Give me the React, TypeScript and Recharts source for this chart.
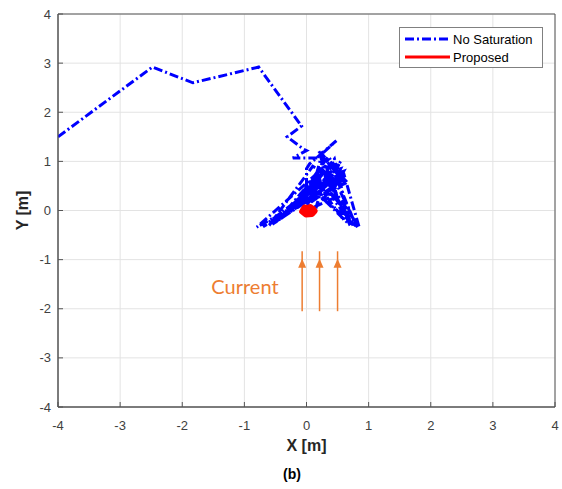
import { ComposedChart, Line, Scatter, XAxis, YAxis, CartesianGrid, ReferenceDot, ReferenceArea } from 'recharts';

// axis ticks (MATLAB style, -4..4 on both axes)
const axisTicks = [-4, -3, -2, -1, 0, 1, 2, 3, 4];

// "No Saturation" trajectory
const noSatX = [
  -4.0, -2.48, -1.83, -0.77, -0.08, -0.31, -0.05, 0.0,
  -0.22, 0.18, 0.48, 0.05, 0.0, 0.0, 0.25, 0.55,
  0.1, -0.8, 0.3, 0.6, 0.85, 0.35, 0.2, 0.62, -0.15,
  0.45, 0.7, 0.25, 0.0, 0.4, -0.5, 0.15, 0.55, 0.3, 0.8,
  0.45, -0.3, 0.35, 0.6, 0.05, 0.5, 0.2, 0.6, 0.4, -0.6,
  0.1, 0.5, 0.15, 0.38, 0.58, 0.1, 0.7, 0.3, -0.4, 0.22,
  0.3, -0.7, 0.2, 0.05, -0.45, 0.25, 0.5, 0.82, 0.4, 0.6, 0.1, -0.25,
  0.3, 0.45, 0.75, 0.35, 0.55, 0.2, -0.55, 0.15, 0.62, 0.28, 0.05, 0.52, 0.0,
];
const noSatY = [
  1.5, 2.92, 2.6, 2.92, 1.72, 1.5, 1.25, 1.22,
  1.07, 1.07, 1.42, 0.95, 0.85, 0.02, 1.15, 0.7,
  0.3, -0.34, 0.9, 0.75, -0.35, 0.6, 1.2, 0.55, 0.1,
  1.05, -0.25, 0.85, 0.35, 0.95, -0.25, 0.7, 0.85, 0.2, -0.32,
  0.75, -0.05, 1.1, 0.65, 0.15, 0.95, 0.5, -0.2, 0.7, -0.3,
  0.9, 0.6, 0.05, 1.0, 0.72, 0.45, -0.3, 0.8, -0.15, 0.6,
  0.45, -0.33, 0.55, 0.25, -0.2, 0.75, 0.5, -0.34, 0.35, 0.8, 0.6, 0.0,
  0.65, 0.2, -0.3, 0.55, 1.0, 0.35, -0.28, 0.45, 0.62, 1.05, 0.4, 0.3, 0.0,
];

// "Proposed" trajectory stays in a small blob at the origin
const proposedX = [0.03, 0.11, -0.03, -0.07, -0.01, 0.09, 0.13, 0.06, -0.05, -0.02, 0.1, 0.07, 0.01];
const proposedY = [-0.01, 0.03, 0.06, -0.02, -0.08, -0.07, -0.01, 0.07, 0.02, -0.06, -0.04, 0.04, 0.01];

// current arrows annotation
const arrowX = [-0.07, 0.21, 0.5];
const arrowTail = -2.05;
const arrowTip = -0.98;
const currentText = 'Current';
const currentPos = { x: -0.99, y: -1.6 };

const noSatData = noSatX.map((x, i) => ({ x, y: noSatY[i] }));
const proposedData = proposedX.map((x, i) => ({ x, y: proposedY[i] }));
const arrowHeads = arrowX.map((x) => ({ x, y: arrowTip }));

const ORANGE = '#ed7d31';
const FONT = '"Liberation Sans", Arial, Helvetica, sans-serif';
const tickStyle = { fontSize: 13, fill: '#404040', fontFamily: FONT };

const ArrowHead = (props: any) => {
  const { cx, cy } = props;
  return <path d={`M${cx},${cy} L${cx - 4},${cy + 9} L${cx + 4},${cy + 9} Z`} fill={ORANGE} />;
};

export default function App() {
  return (
    <div style={{ position: 'absolute', left: 0, top: 0, width: 562, height: 489, background: '#fff' }}>
      <ComposedChart width={562} height={489} margin={{ top: 14, right: 7, bottom: 52, left: 18 }}>
        <CartesianGrid stroke="#e3e3e3" strokeWidth={1} />
        <XAxis
          type="number"
          dataKey="x"
          domain={[-4, 4]}
          ticks={axisTicks}
          allowDataOverflow
          height={30}
          stroke="#555"
          tickSize={-5}
          tickMargin={19}
          tick={tickStyle}
          label={{ value: 'X [m]', position: 'bottom', offset: 3, style: { fontSize: 16, fontWeight: 'bold', fill: '#262626', fontFamily: FONT } }}
        />
        <YAxis
          type="number"
          dataKey="y"
          domain={[-4, 4]}
          ticks={axisTicks}
          allowDataOverflow
          width={40}
          stroke="#555"
          tickSize={-5}
          tickMargin={12}
          tick={tickStyle}
          label={{ value: 'Y [m]', angle: -90, position: 'insideLeft', offset: 4, style: { textAnchor: 'middle', fontSize: 16, fontWeight: 'bold', fill: '#262626', fontFamily: FONT } }}
        />
        <ReferenceArea x1={-4} x2={4} y1={-4} y2={4} fill="none" stroke="#555" strokeWidth={1} />
        <Line
          data={noSatData}
          dataKey="y"
          stroke="#0000ff"
          strokeWidth={3}
          strokeDasharray="9 3 2 3"
          dot={false}
          isAnimationActive={false}
        />
        <Line
          data={proposedData}
          dataKey="y"
          stroke="#ff0000"
          strokeWidth={6}
          strokeLinejoin="round"
          strokeLinecap="round"
          dot={false}
          isAnimationActive={false}
        />
        {arrowX.map((x) => (
          <Line
            key={x}
            data={[{ x, y: arrowTail }, { x, y: arrowTip + 0.15 }]}
            dataKey="y"
            stroke={ORANGE}
            strokeWidth={1.5}
            dot={false}
            isAnimationActive={false}
          />
        ))}
        <Scatter data={arrowHeads} dataKey="y" shape={ArrowHead} isAnimationActive={false} />
        <ReferenceDot
          x={currentPos.x}
          y={currentPos.y}
          r={0}
          shape={(p: any) => (
            <text x={p.cx} y={p.cy} textAnchor="middle" dominantBaseline="middle" fill={ORANGE} fontSize={20} fontFamily="Lato, 'Open Sans', sans-serif">
              {currentText}
            </text>
          )}
        />
      </ComposedChart>

      {/* MATLAB style legend box */}
      <div
        style={{
          position: 'absolute', left: 399, top: 27, width: 144, height: 41, boxSizing: 'border-box',
          border: '1px solid #808080', background: '#fff', fontFamily: FONT, fontSize: 13, color: '#000',
        }}
      >
        <div style={{ display: 'flex', alignItems: 'center', height: 18, marginTop: 2 }}>
          <svg width={53} height={6}>
            <line x1={5} x2={50} y1={3} y2={3} stroke="#0000ff" strokeWidth={3} strokeDasharray="9 3 2 3" />
          </svg>
          <span>No Saturation</span>
        </div>
        <div style={{ display: 'flex', alignItems: 'center', height: 18 }}>
          <svg width={53} height={6}>
            <line x1={5} x2={50} y1={3} y2={3} stroke="#ff0000" strokeWidth={3} />
          </svg>
          <span>Proposed</span>
        </div>
      </div>

      <div style={{ position: 'absolute', left: 262, top: 466, width: 60, textAlign: 'center', fontFamily: FONT, fontWeight: 'bold', fontSize: 14, color: '#000' }}>
        (b)
      </div>
    </div>
  );
}
